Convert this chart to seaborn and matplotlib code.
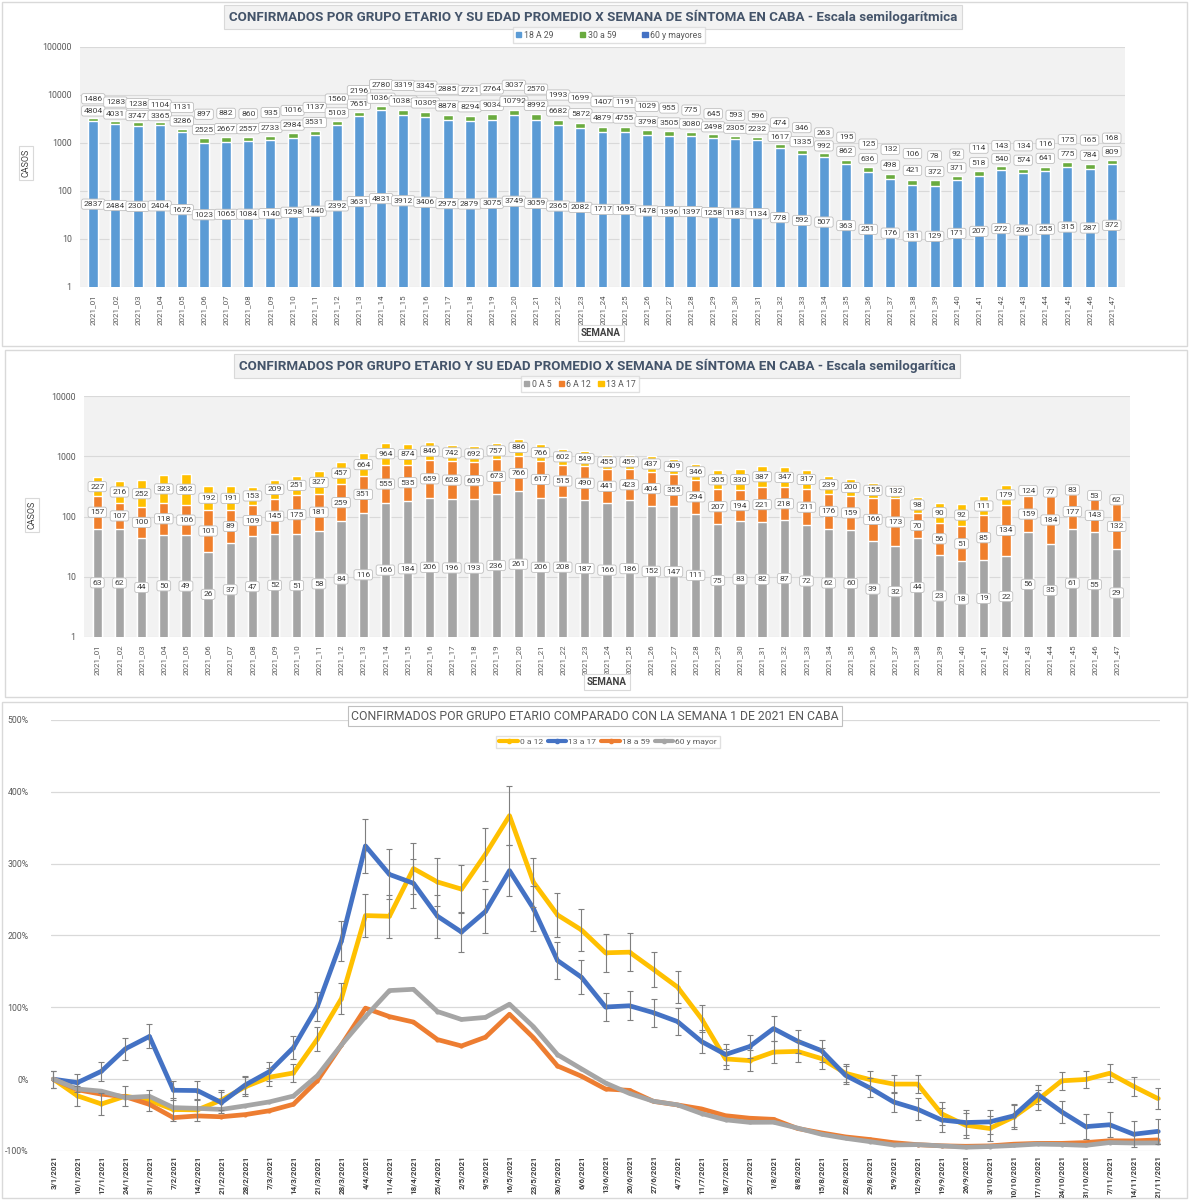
import numpy as np
import pandas as pd
import matplotlib
matplotlib.use("Agg")
import matplotlib.pyplot as plt
from matplotlib.patches import Rectangle, Patch
from matplotlib.lines import Line2D
from matplotlib.ticker import NullLocator
import seaborn as sns

# --- datos ---
semanas = [f"2021_{i:02d}" for i in range(1, 48)]
fechas = [f"{d.day}/{d.month}/{d.year}" for d in pd.date_range("2021-01-03", periods=47, freq="7D")]

# adultos (grafico 1)
a18_29 = [2837, 2484, 2300, 2404, 1672, 1023, 1065, 1084, 1140, 1298,
          1440, 2392, 3631, 4831, 3912, 3406, 2975, 2879, 3075, 3749,
          3059, 2365, 2082, 1717, 1695, 1478, 1396, 1397, 1258, 1183,
          1134, 778, 592, 507, 363, 251, 176, 131, 129, 171,
          207, 272, 236, 255, 315, 287, 372]
a30_59 = [4804, 4031, 3747, 3365, 3286, 2525, 2667, 2557, 2733, 2984,
          3531, 5103, 7651, 10364, 10382, 10309, 8878, 8294, 9034, 10792,
          8992, 6682, 5872, 4879, 4755, 3798, 3505, 3080, 2498, 2305,
          2232, 1617, 1335, 992, 862, 636, 498, 421, 372, 371,
          518, 540, 574, 641, 775, 784, 809]
a60 = [1486, 1283, 1238, 1104, 1131, 897, 882, 860, 935, 1016,
       1137, 1560, 2196, 2780, 3319, 3345, 2885, 2721, 2764, 3037,
       2570, 1993, 1699, 1407, 1191, 1029, 955, 775, 645, 593,
       596, 474, 346, 263, 195, 125, 132, 106, 78, 92,
       114, 143, 134, 116, 175, 165, 168]

# menores (grafico 2)
m0_5 = [63, 62, 44, 50, 49, 26, 37, 47, 52, 51,
        58, 84, 116, 166, 184, 206, 196, 193, 236, 261,
        206, 208, 187, 166, 186, 152, 147, 111, 75, 83,
        82, 87, 72, 62, 60, 39, 32, 44, 23, 18,
        19, 22, 56, 35, 61, 55, 29]
m6_12 = [157, 107, 100, 118, 106, 101, 89, 109, 145, 175,
         181, 259, 351, 555, 535, 659, 628, 609, 673, 766,
         617, 515, 490, 441, 423, 404, 355, 294, 207, 194,
         221, 218, 211, 176, 159, 166, 173, 70, 56, 51,
         85, 134, 159, 184, 177, 143, 132]
m13_17 = [227, 216, 252, 323, 362, 192, 191, 153, 209, 251,
          327, 457, 664, 964, 874, 846, 742, 692, 757, 886,
          766, 602, 549, 455, 459, 437, 409, 346, 305, 330,
          387, 347, 317, 239, 200, 155, 132, 98, 90, 92,
          111, 179, 124, 77, 83, 53, 62]

W, H = 1189, 1200
def fx(px):
    return px / W
def fy(py):
    return 1 - py / H

sns.set_theme(style="white")
plt.rcParams['font.family'] = ['Roboto', 'DejaVu Sans']

fig = plt.figure(figsize=(W / 100, H / 100), dpi=100)

# marcos de cada grafico
for (x0, y0, x1, y1) in [(2, 2, 1187, 346), (5, 350, 1187, 697), (2, 702, 1187, 1198)]:
    fig.patches.append(Rectangle((fx(x0), fy(y1)), fx(x1) - fx(x0), fy(y0) - fy(y1),
                                 transform=fig.transFigure, fill=False, ec='#d9d9d9', lw=1))

lbl_box = dict(boxstyle='round,pad=0.25,rounding_size=0.25', fc='white', ec='#bfbfbf', lw=0.6)
title_box = dict(boxstyle='square,pad=0.35', fc='#f2f2f2', ec='#d9d9d9', lw=0.8)
small_box = dict(boxstyle='square,pad=0.3', fc='white', ec='#d9d9d9', lw=0.8)
TXT = '#404040'
FS = 6.1


def log_axis(ax, top):
    ax.set_yscale('log')
    ax.set_ylim(1, top)
    ticks = [10 ** k for k in range(int(np.log10(top)) + 1)]
    ax.set_yticks(ticks)
    ax.set_yticklabels([str(t) for t in ticks])
    ax.yaxis.set_minor_locator(NullLocator())
    ax.set_facecolor('#f2f2f2')
    ax.yaxis.grid(True, color='#d9d9d9', lw=0.8)
    ax.set_axisbelow(True)
    for s in ax.spines.values():
        s.set_visible(False)
    ax.tick_params(axis='y', labelsize=6.3, colors='#595959', length=0, pad=6)
    ax.tick_params(axis='x', labelsize=5.8, colors='#595959', length=0, rotation=90, pad=5)
    ax.set_xlabel('')
    ax.set_ylabel('')
    ax.set_xlim(-0.6, 46.6)


# --- Grafico 1: adultos ---
ax1 = fig.add_axes([fx(80), fy(287), (1125 - 80) / W, (287 - 47) / H])
df1 = pd.DataFrame({'semana': semanas, 'a': a18_29, 'b': a30_59, 'c': a60})
df1['verde'] = df1['a'] + df1['b'] / 10
sns.barplot(data=df1, x='semana', y='verde', color='#6aab3f', width=0.45, saturation=1, ax=ax1)
sns.barplot(data=df1, x='semana', y='a', color='#5b9bd5', width=0.45, saturation=1, ax=ax1)
log_axis(ax1, 100000)

a = np.array(a18_29, float)
b = np.array(a30_59, float)
c = np.array(a60, float)
for i in range(47):
    ax1.text(i, np.sqrt(a[i]), a18_29[i], ha='center', va='center', fontsize=FS, color=TXT, bbox=lbl_box)
    ax1.text(i, np.sqrt(a[i] * (a[i] + b[i])), a30_59[i], ha='center', va='center', fontsize=FS, color=TXT, bbox=lbl_box)
    ax1.text(i, np.sqrt((a[i] + b[i]) * (a[i] + b[i] + c[i])), a60[i], ha='center', va='center', fontsize=FS, color=TXT, bbox=lbl_box)

fig.text(fx(593), fy(17), 'CONFIRMADOS POR GRUPO ETARIO Y SU EDAD PROMEDIO X SEMANA DE SÍNTOMA EN CABA - Escala semilogarítmica',
         ha='center', va='center', fontsize=9.6, fontweight='bold', color='#44546a', bbox=title_box)
fig.legend(handles=[Patch(color='#5b9bd5', label='18 A 29'), Patch(color='#6aab3f', label='30 a 59'),
                    Patch(color='#4472c4', label='60 y mayores')],
           loc='center', bbox_to_anchor=(fx(609), fy(35)), ncol=3, fontsize=6.3, frameon=True,
           fancybox=False, edgecolor='#d9d9d9', handlelength=0.6, handleheight=0.6, columnspacing=3,
           handletextpad=0.3, borderpad=0.35, labelcolor='#595959')
fig.text(fx(26), fy(163), 'CASOS', rotation=90, ha='center', va='center', fontsize=6.5, color=TXT, bbox=small_box)
fig.text(fx(601), fy(333), 'SEMANA', ha='center', va='center', fontsize=7, fontweight='bold', color=TXT, bbox=small_box)

# --- Grafico 2: menores ---
ax2 = fig.add_axes([fx(84), fy(637), (1130 - 84) / W, (637 - 396) / H])
df2 = pd.DataFrame({'semana': semanas, 'g': m0_5, 'o': m6_12, 'y': m13_17})
df2['go'] = df2['g'] + df2['o']
df2['tot'] = df2['go'] + df2['y']
sns.barplot(data=df2, x='semana', y='tot', color='#ffc000', width=0.42, saturation=1, ax=ax2)
sns.barplot(data=df2, x='semana', y='go', color='#f07f2c', width=0.42, saturation=1, ax=ax2)
sns.barplot(data=df2, x='semana', y='g', color='#a5a5a5', width=0.42, saturation=1, ax=ax2)
log_axis(ax2, 10000)

g = np.array(m0_5, float)
go = g + np.array(m6_12, float)
tot = go + np.array(m13_17, float)
for i in range(47):
    ax2.text(i, np.sqrt(g[i]), m0_5[i], ha='center', va='center', fontsize=FS, color=TXT, bbox=lbl_box)
    ax2.text(i, np.sqrt(g[i] * go[i]), m6_12[i], ha='center', va='center', fontsize=FS, color=TXT, bbox=lbl_box)
    ax2.text(i, np.sqrt(go[i] * tot[i]), m13_17[i], ha='center', va='center', fontsize=FS, color=TXT, bbox=lbl_box)

fig.text(fx(597), fy(366), 'CONFIRMADOS POR GRUPO ETARIO Y SU EDAD PROMEDIO X SEMANA DE SÍNTOMA EN CABA - Escala semilogarítica',
         ha='center', va='center', fontsize=9.6, fontweight='bold', color='#44546a', bbox=title_box)
fig.legend(handles=[Patch(color='#a5a5a5', label='0 A 5'), Patch(color='#f07f2c', label='6 A 12'),
                    Patch(color='#ffc000', label='13 A 17')],
           loc='center', bbox_to_anchor=(fx(580), fy(384)), ncol=3, fontsize=6.3, frameon=True,
           fancybox=False, edgecolor='#d9d9d9', handlelength=0.6, handleheight=0.6, columnspacing=0.8,
           handletextpad=0.3, borderpad=0.35, labelcolor='#595959')
fig.text(fx(32), fy(515), 'CASOS', rotation=90, ha='center', va='center', fontsize=6.5, color=TXT, bbox=small_box)
fig.text(fx(607), fy(682), 'SEMANA', ha='center', va='center', fontsize=7, fontweight='bold', color=TXT, bbox=small_box)

# --- Grafico 3: variacion respecto a la semana 1 ---
p0_12 = (go / go[0] - 1) * 100
p13_17 = (np.array(m13_17, float) / m13_17[0] - 1) * 100
p18_59 = ((a + b) / (a[0] + b[0]) - 1) * 100
p60 = (c / c[0] - 1) * 100

grupos = ['0 a 12', '13 a 17', '18 a 59', '60 y mayor']
colores = ['#ffc000', '#4472c4', '#ed7d31', '#a5a5a5']
df3 = pd.DataFrame({'idx': np.tile(np.arange(47), 4),
                    'grupo': np.repeat(grupos, 47),
                    'pct': np.concatenate([p0_12, p13_17, p18_59, p60])})

ax3 = fig.add_axes([fx(51), fy(1151), (1160 - 51) / W, (1151 - 720) / H])
sns.lineplot(data=df3, x='idx', y='pct', hue='grupo', hue_order=grupos, palette=colores,
             linewidth=3.4, marker='o', markersize=3, markeredgewidth=0, legend=False, ax=ax3)
for serie in [p0_12, p13_17]:
    err = 12 + 0.08 * np.abs(serie)
    ax3.errorbar(np.arange(47), serie, yerr=err, fmt='none', ecolor='#7f7f7f', elinewidth=0.8, capsize=2, capthick=0.8, zorder=5)

ax3.set_ylim(-100, 500)
ax3.set_xlim(-0.1, 46.1)
ax3.set_yticks(range(-100, 501, 100))
ax3.set_yticklabels([f"{v}%" for v in range(-100, 501, 100)])
ax3.set_xticks(range(47))
ax3.set_xticklabels(fechas, rotation=90, fontsize=5.8, fontweight='bold', color='#404040')
ax3.tick_params(axis='y', labelsize=6.3, colors='#595959', length=0, pad=16)
ax3.tick_params(axis='x', length=0, pad=3)
ax3.yaxis.grid(True, color='#d9d9d9', lw=0.9)
ax3.set_axisbelow(True)
for s in ax3.spines.values():
    s.set_visible(False)
ax3.set_xlabel('')
ax3.set_ylabel('')

fig.text(fx(595), fy(716), 'CONFIRMADOS POR GRUPO ETARIO COMPARADO CON LA SEMANA 1 DE 2021 EN CABA',
         ha='center', va='center', fontsize=8.8, color='#595959', bbox=dict(boxstyle='square,pad=0.3', fc='white', ec='#bfbfbf', lw=0.8))
fig.legend(handles=[Line2D([], [], color=col, lw=3, marker='o', markersize=3, label=lab) for col, lab in zip(colores, grupos)],
           loc='center', bbox_to_anchor=(fx(608), fy(742)), ncol=4, fontsize=6.1, frameon=True,
           fancybox=False, edgecolor='#d9d9d9', handlelength=2.2, columnspacing=0.6,
           handletextpad=0.2, borderpad=0.35, labelcolor='#595959')

fig.savefig('out.png', dpi=100)
